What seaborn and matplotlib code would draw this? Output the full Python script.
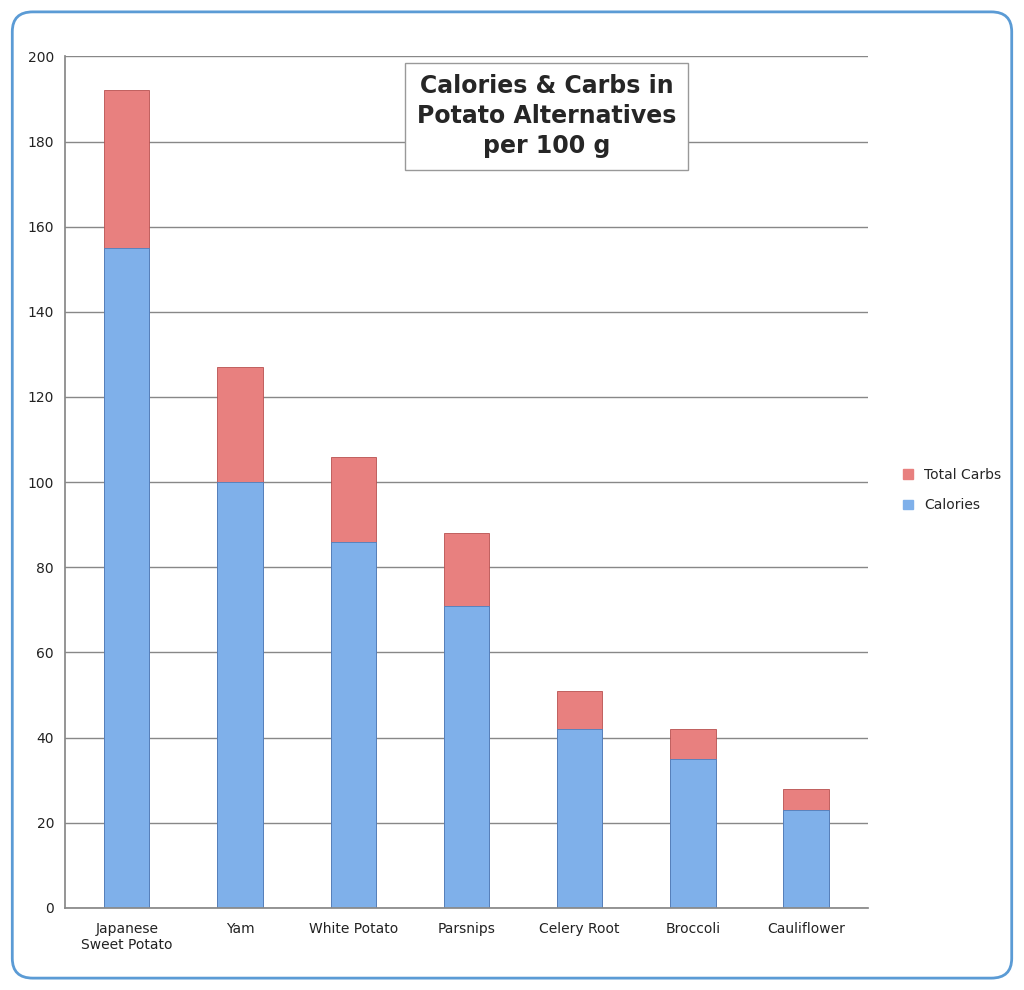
import matplotlib
matplotlib.use("Agg")
import matplotlib.pyplot as plt
import seaborn as sns
import pandas as pd
from matplotlib.patches import FancyBboxPatch, Patch

categories = ["Japanese\nSweet Potato", "Yam", "White Potato", "Parsnips", "Celery Root", "Broccoli", "Cauliflower"]
calories = [155, 100, 86, 71, 42, 35, 23]
carbs = [37, 27, 20, 17, 9, 7, 5]
yticks = list(range(0, 201, 20))

df = pd.DataFrame({"cat": categories, "Calories": calories,
                   "Total": [a + b for a, b in zip(calories, carbs)]})

sns.set_theme(style="white")
fig = plt.figure(figsize=(10.24, 9.9), dpi=100)
fig.patches.append(FancyBboxPatch((0.012, 0.012), 0.976, 0.976, boxstyle="round,pad=0,rounding_size=0.02",
                                  transform=fig.transFigure, fill=False, edgecolor="#5b9bd5", linewidth=2))
ax = fig.add_axes([0.063, 0.083, 0.785, 0.86])
sns.barplot(data=df, x="cat", y="Total", color="#e8807f", width=0.4, ax=ax, saturation=1, edgecolor="#b85050", linewidth=0.6)
sns.barplot(data=df, x="cat", y="Calories", color="#7fb0ea", width=0.4, ax=ax, saturation=1, edgecolor="#4a7fbf", linewidth=0.6)
ax.set_ylim(0, 200)
ax.set_yticks(yticks)
ax.set_xlim(-0.55, 6.55)
ax.yaxis.grid(True, color="#888888", linewidth=1)
ax.set_axisbelow(True)
for s in ["top", "right"]:
    ax.spines[s].set_visible(False)
for s in ["left", "bottom"]:
    ax.spines[s].set_color("#888888")
ax.set_xlabel("")
ax.set_ylabel("")
ax.tick_params(axis="both", labelsize=10, colors="#222222", length=4)
ax.tick_params(axis="x", length=0, pad=10)
ax.text(0.6, 0.93, "Calories & Carbs in\nPotato Alternatives\nper 100 g", transform=ax.transAxes,
        ha="center", va="center", fontsize=17, fontweight="bold", linespacing=1.3,
        bbox=dict(boxstyle="square,pad=0.5", fc="white", ec="#999999"))
handles = [Patch(color="#e8807f", label="Total Carbs"), Patch(color="#7fb0ea", label="Calories")]
fig.legend(handles=handles, loc="center left", bbox_to_anchor=(0.87, 0.505), frameon=False,
           fontsize=10, handlelength=0.7, handleheight=0.7, labelspacing=1.2)
fig.savefig("out.png", dpi=100)
